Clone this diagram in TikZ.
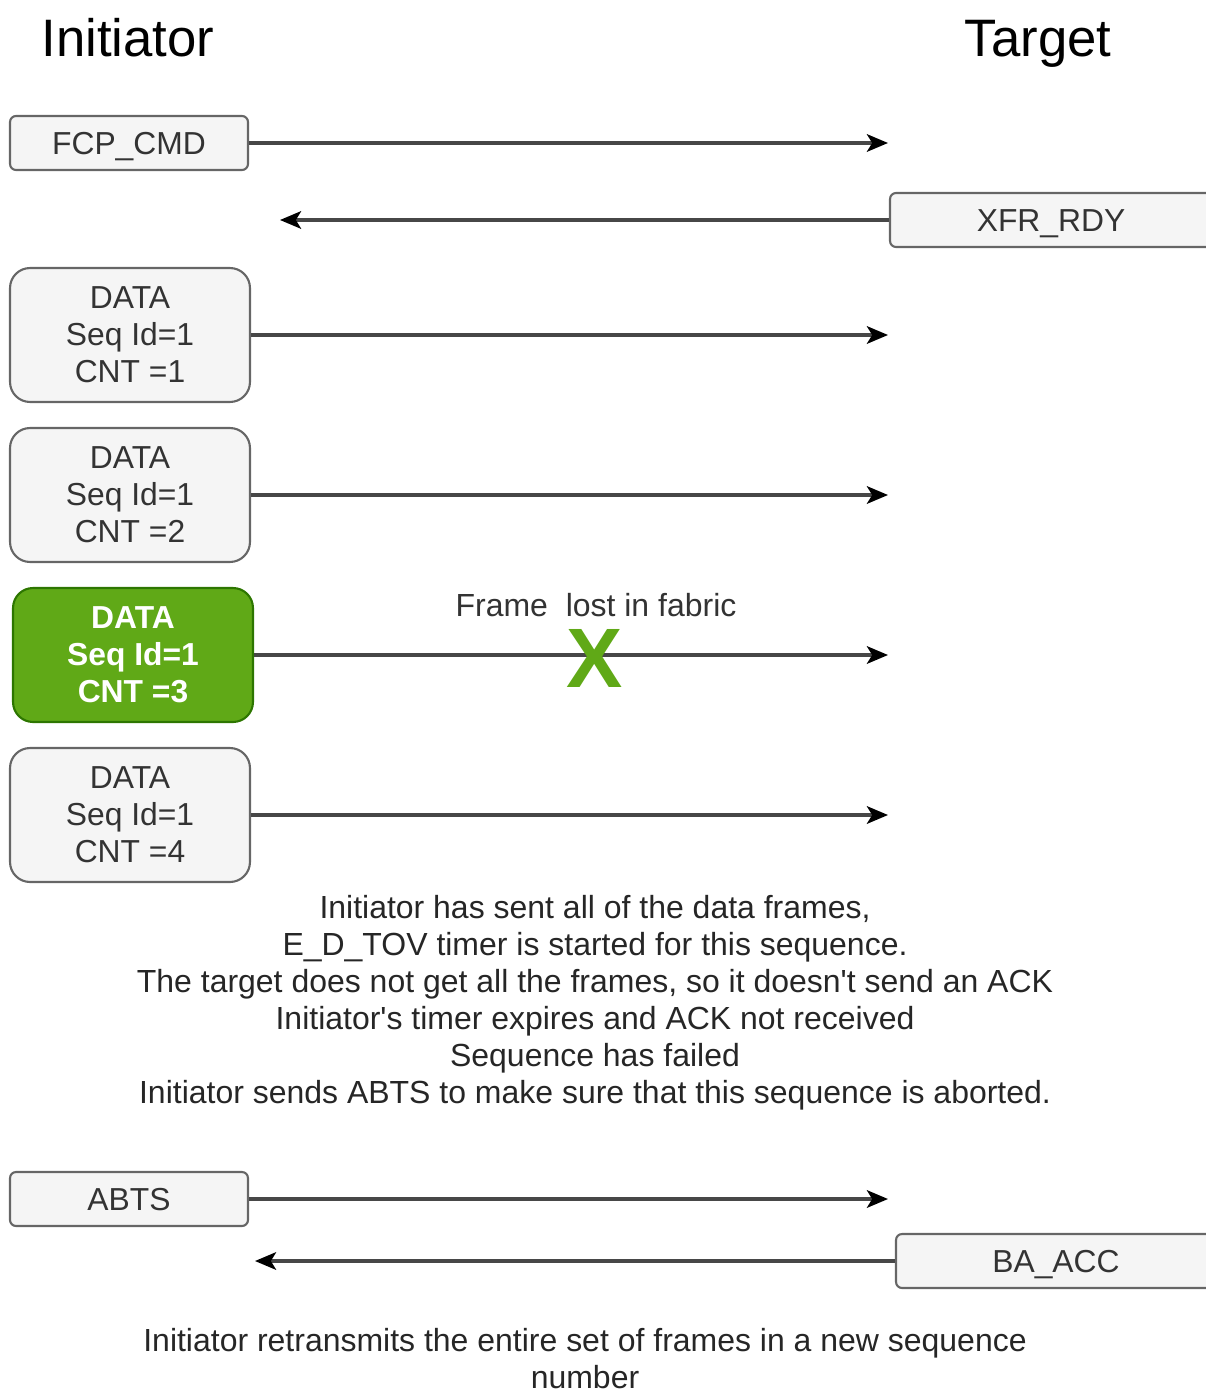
\documentclass[tikz,border=0pt]{standalone}
\usepackage{fontspec}
\setmainfont{Liberation Sans}
\usetikzlibrary{positioning, arrows.meta}

\definecolor{boxfill}{HTML}{F5F5F5}
\definecolor{boxline}{HTML}{666666}
\definecolor{txtgrey}{HTML}{333333}
\definecolor{lostgreen}{HTML}{60A917}
\definecolor{lostline}{HTML}{2D7600}

\begin{document}
\begin{tikzpicture}[x=0.02cm, y=-0.02cm,
    box/.style={draw=boxline, line width=1.2pt, fill=boxfill, text=txtgrey, inner sep=0pt,
        font=\fontsize{18.1}{21}\selectfont},
    frame/.style={box, rounded corners=0.12cm, minimum width=4.76cm, minimum height=1.08cm,
        text height=13pt, text depth=0pt},
    databox/.style={box, rounded corners=0.4cm, minimum width=4.8cm, minimum height=2.68cm, align=center},
    lostbox/.style={databox, draw=lostline, fill=lostgreen, text=white,
        font=\fontsize{18.1}{21}\selectfont\bfseries},
    msg/.style={draw=black!72, line width=1.9pt, -{Stealth[length=12pt, width=10pt, inset=3pt, black]}},
    note/.style={align=center, text=black!85, font=\fontsize{18.2}{21.1}\selectfont},
    title/.style={font=\fontsize{30}{36}\selectfont}]
    \useasboundingbox (0,0) rectangle (1205,1395);

    % Sides
    \node[title, anchor=base] (ini) at (128,57) {Initiator};
    \node[title, anchor=base] (tgt) at (1038,57) {Target};

    % Frames
    \node[frame] (fcp) at (129,143) {FCP\_CMD};
    \node[frame, minimum width=6.44cm] (xfr) at (1051,220) {XFR\_RDY};
    \node[databox] (data1) at (130,335) {DATA\\Seq Id=1\\CNT =1};
    \node[databox] (data2) at (130,495) {DATA\\Seq Id=1\\CNT =2};
    \node[lostbox] (data3) at (133,655) {DATA\\Seq Id=1\\CNT =3};
    \node[databox] (data4) at (130,815) {DATA\\Seq Id=1\\CNT =4};
    \node[frame] (abts) at (129,1199) {ABTS};
    \node[frame, minimum width=6.4cm] (bacc) at (1056,1261) {BA\_ACC};

    % Arrow ends
    \coordinate (fcpEnd) at (888,143);
    \coordinate (xfrEnd) at (280,220);
    \coordinate (d1End) at (888,335);
    \coordinate (d2End) at (888,495);
    \coordinate (d3End) at (888,655);
    \coordinate (d4End) at (888,815);
    \coordinate (abtsEnd) at (888,1199);
    \coordinate (baccEnd) at (255,1261);

    % Messages
    \draw[msg] (fcp) -- (fcpEnd);
    \draw[msg] (xfr) -- (xfrEnd);
    \draw[msg] (data1) -- (d1End);
    \draw[msg] (data2) -- (d2End);
    \draw[msg] (data3) -- (d3End);
    \draw[msg] (data4) -- (d4End);
    \draw[msg] (abts) -- (abtsEnd);
    \draw[msg] (bacc) -- (baccEnd);

    % Lost frame
    \node[text=lostgreen, font=\fontsize{48}{48}\selectfont\bfseries] (lost) at (595,658) {X};
    \node[note, text=txtgrey] (lostText) at (596,605) {Frame\ \ lost in fabric};

    % Notes
    \node[note] (timeout) at (595,1003) {Initiator has sent all of the data frames,\\
        E\_D\_TOV timer is started for this sequence.\\
        The target does not get all the frames, so it doesn\textquotesingle t send an ACK\\
        Initiator\textquotesingle s timer expires and ACK not received\\
        Sequence has failed\\
        Initiator sends ABTS to make sure that this sequence is aborted.};
    \node[note] (retx) at (585,1359) {Initiator retransmits the entire set of frames in a new sequence\\number};
\end{tikzpicture}
\end{document}
